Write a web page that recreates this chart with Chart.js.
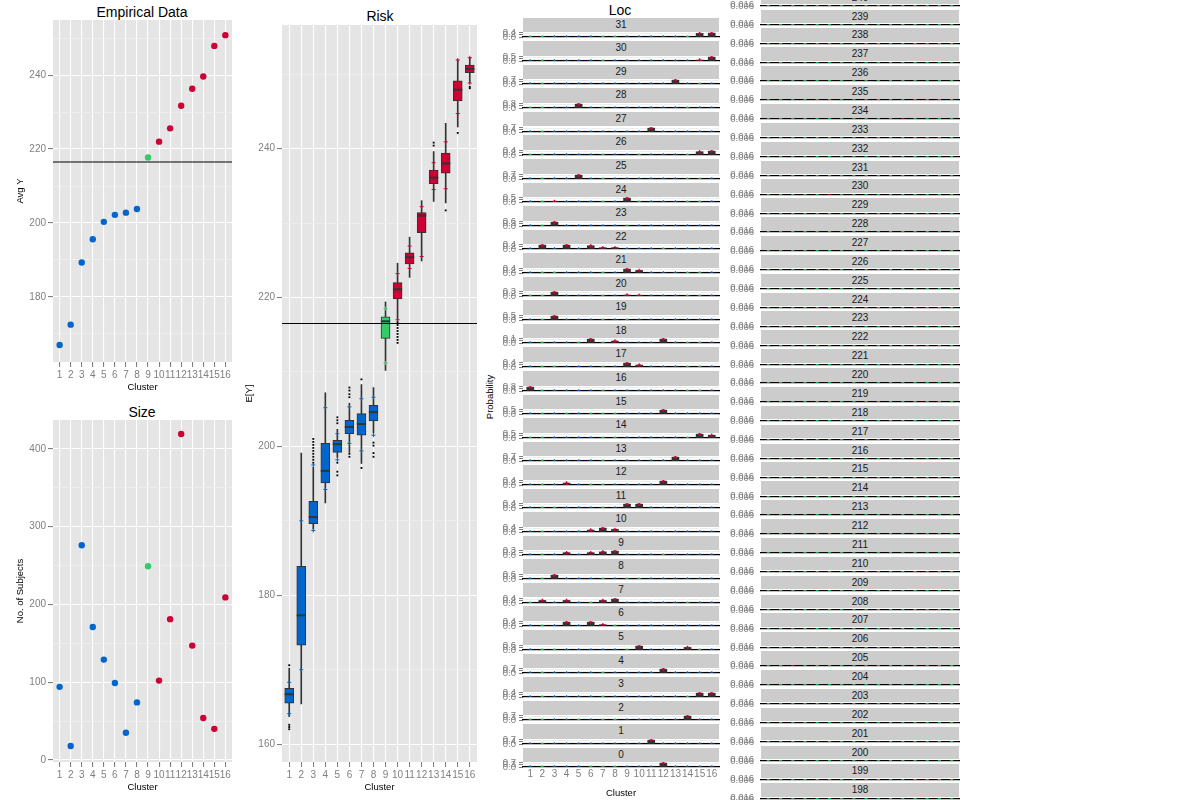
<!DOCTYPE html>
<html><head><meta charset="utf-8">
<script src="https://cdn.jsdelivr.net/npm/chart.js@4.4.0/dist/chart.umd.min.js"></script>
<style>
html,body{margin:0;padding:0;background:#fff;}
body{width:1200px;height:800px;overflow:hidden;position:relative;font-family:"Liberation Sans",Arial,Helvetica,sans-serif;}
canvas{position:absolute;}
.strip{position:absolute;background:#CCCCCC;color:#1A1A1A;font-size:10px;text-align:center;white-space:nowrap;overflow:hidden;}
.ttl{position:absolute;font-size:14px;color:#000;white-space:nowrap;transform:translate(-50%,-50%);}
.ylab{position:absolute;font-size:9.5px;color:#000;white-space:nowrap;transform:translate(-50%,-50%) rotate(-90deg);}
</style></head><body>
<div class="ttl" style="left:142px;top:12px">Empirical Data</div>
<div class="ttl" style="left:142px;top:412px">Size</div>
<div class="ttl" style="left:380px;top:16px">Risk</div>
<div class="ttl" style="left:620px;top:10px">Loc</div>
<div class="ylab" style="left:489px;top:397px">Probability</div>
<script>
// ---------------- DATA ----------------
const clusters = [1,2,3,4,5,6,7,8,9,10,11,12,13,14,15,16];
const clusterGroup = ['low','low','low','low','low','low','low','low','mid','high','high','high','high','high','high','high'];
const avgY = [167.0,172.5,189.3,195.6,200.3,202.2,202.8,203.8,217.7,222.0,225.6,231.7,236.3,239.6,247.9,250.8];
const overallMean = 216.5;
const nSubjects = [94,18,276,171,129,99,35,74,249,102,181,419,147,54,40,209];

const riskQ1  = [165.5,173.3,189.6,195.1,199.2,201.7,201.5,203.4,214.5,219.8,224.5,228.7,235.3,236.7,246.4,250.2];
const riskMed = [166.7,177.3,190.5,196.7,200.3,202.6,203.0,204.6,216.8,221.1,225.4,231.0,236.1,238.0,247.9,250.7];
const riskQ3  = [167.5,183.9,192.6,200.4,200.8,203.5,204.4,205.5,217.4,222.0,226.0,231.4,237.1,239.4,249.1,251.2];
const riskWhiskerLo = [163.7,165.4,188.9,192.4,198.5,199.2,197.7,201.8,210.2,217.0,222.7,224.9,232.9,232.7,242.9,248.9];
const riskWhiskerHi = [170.2,199.1,197.2,207.2,202.3,205.8,208.3,207.9,219.4,224.6,228.1,233.0,239.6,243.4,251.9,252.2];
const riskMarkHi = [168.3,190.0,197.5,205.2,201.7,205.3,206.4,206.6,218.5,223.2,226.9,232.2,238.1,240.9,251.9,252.2];
const riskMarkLo = [164.1,170.0,188.7,194.2,198.2,200.4,199.4,201.5,211.2,217.0,223.9,225.5,234.5,234.6,244.7,248.8];
const riskOutliers = [
  [1,170.6],[1,162.6],[1,162.3],[1,162.0],
  [3,201.0],[3,200.6],[3,200.2],[3,199.8],[3,199.4],[3,199.0],[3,198.6],[3,198.2],[3,197.8],
  [5,203.9],[5,203.5],[5,203.1],[5,197.8],[5,196.6],[5,196.1],
  [6,207.9],[6,207.5],[6,207.0],[6,206.6],[6,199.0],[6,198.6],
  [7,209.0],[7,197.1],
  [8,200.5],[8,200.1],[8,199.1],[8,198.6],
  [10,216.7],[10,216.3],[10,215.9],[10,215.5],[10,215.1],[10,214.7],[10,214.3],[10,213.9],
  [13,240.8],[13,240.4],[14,231.7],[15,242.1],[16,248.3],[16,248.1]
];

const locFacets = [31,30,29,28,27,26,25,24,23,22,21,20,19,18,17,16,15,14,13,12,11,10,9,8,7,6,5,4,3,2,1,0];
const locValues = [
  [0,0,0,0,0,0,0,0,0,0,0,0,0,0,0.30,0.32],
  [0,0,0,0,0,0,0,0,0,0,0,0,0,0,0.08,0.35],
  [0,0,0,0,0,0,0,0,0,0,0,0,0.50,0,0,0],
  [0,0,0,0,0.60,0,0,0,0,0,0,0,0,0,0,0],
  [0,0,0,0,0,0,0,0,0,0,0.55,0,0,0,0,0],
  [0,0,0,0,0,0,0,0,0,0,0,0,0,0,0.25,0.30],
  [0,0,0,0,0.50,0,0,0,0,0,0,0,0,0,0,0],
  [0,0,0.05,0,0,0,0,0,0.35,0,0,0,0,0,0,0],
  [0,0,0.45,0,0,0,0,0,0,0,0,0,0,0,0,0],
  [0,0.30,0,0.30,0,0.25,0.10,0.10,0,0,0,0,0,0,0,0],
  [0,0,0,0,0,0,0,0,0.30,0.20,0,0,0,0,0,0],
  [0,0,0.25,0,0,0,0,0,0.06,0.05,0,0,0,0,0,0],
  [0,0,0.40,0,0,0,0,0,0,0,0,0,0,0,0,0],
  [0,0,0,0,0,0.04,0,0.02,0,0,0,0.04,0,0,0,0],
  [0,0,0,0,0,0,0,0,0.30,0.15,0,0,0,0,0,0],
  [0.60,0,0,0,0,0,0,0,0,0,0,0,0,0,0,0],
  [0,0,0,0,0,0,0,0,0,0,0,0.40,0,0,0,0],
  [0,0,0,0,0,0,0,0,0,0,0,0,0,0,0.35,0.25],
  [0,0,0,0,0,0,0,0,0,0,0,0,0.55,0,0,0],
  [0,0,0,0.15,0,0,0,0,0,0,0,0.30,0,0,0,0],
  [0,0,0,0,0,0,0,0,0.30,0.30,0,0,0,0,0,0],
  [0,0,0,0,0,0.15,0.30,0.20,0,0,0,0,0,0,0,0],
  [0,0,0,0.15,0,0.15,0.20,0.25,0,0,0,0,0,0,0,0],
  [0,0,0.45,0,0,0,0,0,0,0,0,0,0,0,0,0],
  [0,0.20,0,0.20,0,0,0.20,0.30,0,0,0,0,0,0,0,0],
  [0,0,0,0.30,0,0.30,0.10,0,0,0,0,0,0,0,0,0],
  [0,0,0,0,0,0,0,0,0,0.45,0,0,0,0.30,0,0],
  [0,0,0,0,0,0,0,0,0,0,0,0.55,0,0,0,0],
  [0,0,0,0,0,0,0,0,0,0,0,0,0,0,0.30,0.30],
  [0,0,0,0,0,0,0,0,0,0,0,0,0,0.50,0,0],
  [0,0,0,0,0,0,0,0,0,0,0.55,0,0,0,0,0],
  [0,0,0,0,0,0,0,0,0,0,0,0.50,0,0,0,0]
];
const locGreen = [
  [1,2,7,8,14],[2,7,15],[2,15],[1,2,7,14],[2],[1,2,7,10,14],[2,7,14,15],[2,7,10,14,15],
  [2,9],[7,8,12],[2,3,7,14,15],[1,2,7,10,14,15],[2,7,9],[2,5,7,8,14,15],[2,3,7,14,15],[2,7,14,15],
  [2,4,6,7,8],[1,2,7,8,14],[2,7],[2,6,7],[2,3,7],[2,7],[2,12],[2,7,9,10],
  [1,6,14],[2,7,8],[2,3,9,15],[2,7],[2,7,14],[1,2,5,7,8,14],[2],[2,6,7,8]
];

const rightFacets = [240,239,238,237,236,235,234,233,232,231,230,229,228,227,226,225,224,223,222,221,220,
  219,218,217,216,215,214,213,212,211,210,209,208,207,206,205,204,203,202,201,200,199,198];
const rightBase = [0.006,0.006,0.006,0.006,0.006,0.006,0.006,0.006,0.006,0.006,0.006,0.006,0.006,0.006,0.006,0.006];
const rightRed = [[234,12],[230,6],[205,3],[201,10]];
const rightTicks = [0.006,0.016];

// ---------------- STYLE ----------------
const groupColor = {low:'#0066CC', mid:'#33CC66', high:'#CC0033'};
const GREY = '#7F7F7F';
const PANEL = '#E5E5E5';
Chart.defaults.font.family = "'Liberation Sans', Arial, Helvetica, sans-serif";
Chart.defaults.animation = false;
Chart.defaults.responsive = false;
Chart.defaults.events = [];
Chart.defaults.plugins.legend.display = false;
Chart.defaults.plugins.tooltip.enabled = false;

const panelBg = {id:'panelBg', beforeDraw(chart, args, opts){
  const a = chart.chartArea, ctx = chart.ctx;
  ctx.save(); ctx.fillStyle = opts.color || PANEL;
  ctx.fillRect(a.left, a.top, a.right - a.left, a.bottom - a.top); ctx.restore();
}};
const hline = {id:'hline', afterDatasetsDraw(chart, args, opts){
  if (opts.value == null) return;
  const a = chart.chartArea, ctx = chart.ctx, y = chart.scales.y.getPixelForValue(opts.value);
  ctx.save(); ctx.strokeStyle = '#000'; ctx.lineWidth = 1.1;
  ctx.beginPath(); ctx.moveTo(a.left, y); ctx.lineTo(a.right, y); ctx.stroke(); ctx.restore();
}};

function mkCanvas(left, top, w, h){
  const c = document.createElement('canvas');
  c.width = w; c.height = h;
  c.style.left = left + 'px'; c.style.top = top + 'px';
  c.style.width = w + 'px'; c.style.height = h + 'px';
  document.body.appendChild(c); return c;
}
function mkStrip(left, top, w, h, text){
  const d = document.createElement('div'); d.className = 'strip';
  d.style.left = left + 'px'; d.style.top = top + 'px'; d.style.width = w + 'px';
  d.style.height = h + 'px'; d.style.lineHeight = h + 'px'; d.textContent = text;
  document.body.appendChild(d);
}
const isMajor = (v, m) => Math.abs(v / m - Math.round(v / m)) < 1e-6;
function noPadY(s, w){ s.width = w; s.paddingTop = 0; s.paddingBottom = 0; }
function noPadX(s, h){ s.height = h; s.paddingLeft = 0; s.paddingRight = 0; }

function mainY(min, max, step, major, width, title, titlePad){
  return {type:'linear', min, max,
    afterFit(s){ s.width = width; },
    ticks:{stepSize:step, includeBounds:false, autoSkip:false, color:GREY, font:{size:10}, padding:2,
      callback:v => isMajor(v, major) ? String(v) : ''},
    grid:{color:c => (c.tick && isMajor(c.tick.value, major)) ? '#FFFFFF' : '#F2F2F2',
      lineWidth:c => (c.tick && isMajor(c.tick.value, major)) ? 1.1 : 0.6,
      tickLength:5, tickColor:c => (c.tick && isMajor(c.tick.value, major)) ? GREY : 'rgba(0,0,0,0)'},
    border:{display:false},
    title:{display:true, text:title, color:'#000', font:{size:9.5}, padding:{top:titlePad, bottom:0}}
  };
}
function mainX(height){
  return {type:'linear', min:0.4, max:16.6, offset:false,
    afterBuildTicks(s){ s.ticks = clusters.map(v => ({value:v})); },
    afterFit(s){ s.height = height; },
    ticks:{autoSkip:false, maxRotation:0, minRotation:0, color:GREY, font:{size:10}, padding:2,
      callback:v => String(v)},
    grid:{color:'#FFFFFF', lineWidth:1.1, tickLength:5, tickColor:GREY, offset:false},
    border:{display:false},
    title:{display:true, text:'Cluster', color:'#000', font:{size:9.5}, padding:{top:0, bottom:7}}
  };
}
const ptColors = clusterGroup.map(g => groupColor[g]);

// ---------- Empirical Data ----------
new Chart(mkCanvas(0, 0, 240, 400), {
  type:'scatter',
  data:{datasets:[{data:clusters.map((c,i)=>({x:c, y:avgY[i]})), pointRadius:3.2, pointBorderWidth:0,
    pointBackgroundColor:ptColors, pointBorderColor:ptColors}]},
  options:{layout:{autoPadding:false, padding:{top:20, right:8, left:0, bottom:0}},
    scales:{x:mainX(38), y:mainY(162.4, 254.9, 10, 20, 53, 'Avg Y', 15)},
    plugins:{hline:{value:overallMean}}},
  plugins:[panelBg, hline]
});

// ---------- Size ----------
new Chart(mkCanvas(0, 400, 240, 400), {
  type:'scatter',
  data:{datasets:[{data:clusters.map((c,i)=>({x:c, y:nSubjects[i]})), pointRadius:3.2, pointBorderWidth:0,
    pointBackgroundColor:ptColors, pointBorderColor:ptColors}]},
  options:{layout:{autoPadding:false, padding:{top:20, right:8, left:0, bottom:0}},
    scales:{x:mainX(38), y:mainY(-2.6, 437, 50, 100, 53, 'No. of Subjects', 15)}},
  plugins:[panelBg]
});

// ---------- Risk ----------
new Chart(mkCanvas(240, 0, 240, 800), {
  type:'bar',
  data:{datasets:[
    {type:'scatter', order:0, data:clusters.flatMap((c,i)=>[{x:c,y:riskMarkHi[i]},{x:c,y:riskMarkLo[i]}]),
      pointStyle:'cross', pointRadius:2, pointBorderWidth:1,
      pointBorderColor:clusters.flatMap((c,i)=>[ptColors[i], ptColors[i]])},
    {type:'scatter', order:1, data:clusters.map((c,i)=>({x:c, y:riskMed[i]})),
      pointStyle:'line', pointRadius:4.6, pointBorderWidth:2, pointBorderColor:'#333333'},
    {type:'scatter', order:2, data:riskOutliers.map(o=>({x:o[0], y:o[1]})),
      pointStyle:'rect', pointRadius:1.3, pointBorderWidth:0, pointBackgroundColor:'#000', pointBorderColor:'#000'},
    {type:'bar', order:3, grouped:false, data:clusters.map((c,i)=>({x:c, y:[riskQ1[i], riskQ3[i]]})),
      backgroundColor:ptColors, borderColor:'#333333', borderWidth:1, borderSkipped:false, barThickness:9},
    {type:'bar', order:4, grouped:false, data:clusters.map((c,i)=>({x:c, y:[riskWhiskerLo[i], riskWhiskerHi[i]]})),
      backgroundColor:'#333333', borderWidth:0, barThickness:1}
  ]},
  options:{layout:{autoPadding:false, padding:{top:25, right:3, left:0, bottom:0}},
    scales:{x:mainX(38), y:mainY(157.6, 256.6, 10, 20, 42, 'E[Y]', 4)},
    plugins:{hline:{value:overallMean}}},
  plugins:[panelBg, hline]
});

// ---------- Loc facets ----------
const LOC_BASE0 = 37.3, LOC_STEP = 23.55;
locFacets.forEach((id, i) => {
  const vals = locValues[i];
  const base = LOC_BASE0 + i * LOC_STEP;
  const last = i === locFacets.length - 1;
  const top = base - 20, h = last ? 53 : 24;
  const ymax = Math.max(...vals) * 1.3;
  const cv = mkCanvas(480, top, 240, h);
  new Chart(cv, {
    type:'bar',
    data:{datasets:[
      {type:'scatter', order:0, data:clusters.map((c,k)=>({x:c, y:vals[k]})),
        pointStyle:'cross', pointRadius:1.8, pointBorderWidth:1.2,
        pointBorderColor:clusters.map((c,k)=> vals[k] > 0 ? groupColor.high : (locGreen[i].includes(c) ? groupColor.mid : groupColor.low))},
      {type:'bar', order:1, grouped:false, data:clusters.map((c,k)=>({x:c, y:vals[k]})),
        backgroundColor:'#333333', borderWidth:0, barThickness:7}
    ]},
    options:{layout:{autoPadding:false, padding:{top:15, right:1, left:0, bottom:0}},
      scales:{
        x:{type:'linear', min:0.4, max:16.6, offset:false,
          afterBuildTicks(s){ s.ticks = clusters.map(v => ({value:v})); },
          afterFit(s){ noPadX(s, h - 20); },
          ticks:{display:last, autoSkip:false, maxRotation:0, minRotation:0, color:GREY, font:{size:10}, padding:1,
            callback:v => String(v)},
          grid:{color:'#FFFFFF', lineWidth:1, drawTicks:false, offset:false},
          border:{display:true, color:'#000000', width:1.3},
          title:{display:last, text:'Cluster', color:'#000', font:{size:9.5}, padding:{top:0, bottom:1}}
        },
        y:{type:'linear', min:0, max:ymax,
          afterFit(s){ noPadY(s, 43); },
          afterBuildTicks(s){ s.ticks = [0, s.max * 0.5, s.max].map(v => ({value:v})); },
          ticks:{autoSkip:false, color:GREY, font:{size:9.5}, padding:3, callback:v => Number(v).toFixed(1)},
          grid:{color:'#FFFFFF', lineWidth:1, tickLength:4, tickColor:GREY},
          border:{display:false}
        }
      },
      plugins:{panelBg:{color:'#EDEDED'}}},
    plugins:[panelBg]
  });
  mkStrip(523, base - 19.6, 196, 14.6, String(id));
});

// ---------- Right column facets ----------
const R_BASE0 = 6, R_STEP = 18.87;
rightFacets.forEach((id, j) => {
  const base = R_BASE0 + j * R_STEP;
  const cv = mkCanvas(720, base - 16, 240, 19);
  const redAt = rightRed.filter(r => r[0] === id).map(r => r[1]);
  new Chart(cv, {
    type:'scatter',
    data:{datasets:[{data:clusters.map((c,k)=>({x:c, y:rightBase[k]})),
      pointStyle:'line', pointRadius:1.6, pointBorderWidth:1.6,
      pointBorderColor:clusters.map(c => redAt.includes(c) ? groupColor.high : groupColor.mid)}]},
    options:{layout:{autoPadding:false, padding:{top:14, right:1, left:0, bottom:0}},
      scales:{
        x:{type:'linear', min:0.4, max:16.6, offset:false,
          afterBuildTicks(s){ s.ticks = clusters.map(v => ({value:v})); },
          afterFit(s){ noPadX(s, 3); },
          ticks:{display:false}, grid:{display:false, drawTicks:false},
          border:{display:true, color:'#000000', width:1.3}
        },
        y:{type:'linear', min:rightTicks[0], max:rightTicks[1],
          afterFit(s){ noPadY(s, 41); },
          afterBuildTicks(s){ s.ticks = rightTicks.map(v => ({value:v})); },
          ticks:{autoSkip:false, color:GREY, font:{size:9.5}, padding:3, callback:v => Number(v).toFixed(3)},
          grid:{display:false, tickLength:4, tickColor:GREY},
          border:{display:false}
        }
      },
      plugins:{panelBg:{color:'#FFFFFF'}}},
    plugins:[panelBg]
  });
  mkStrip(761, base - 15.3, 198, 13.6, String(id));
});
</script>
</body></html>
